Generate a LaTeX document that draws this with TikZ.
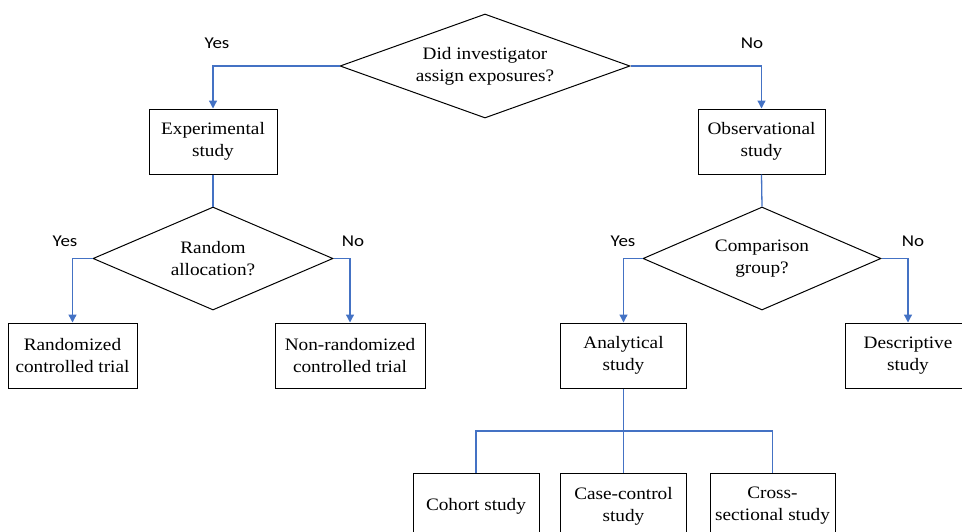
\documentclass[tikz,border=0pt]{standalone}
\usepackage{fontspec}
\setmainfont{Liberation Serif}[FakeStretch=1.1]
\newfontfamily\labfont{Carlito}[FakeStretch=1.15]
\usetikzlibrary{shapes.geometric,arrows.meta}
\definecolor{lineblue}{RGB}{68,114,196}
\begin{document}
\begin{tikzpicture}[x=1pt,y=-1pt,
  box/.style={draw, line width=1pt, minimum width=127pt, minimum height=66pt,
    inner sep=0pt, align=center, font=\fontsize{17.5}{22}\selectfont},
  dec/.style={draw, diamond, line width=1pt, inner sep=0pt, align=center,
    aspect=2.4, minimum height=104pt, font=\fontsize{17.5}{22}\selectfont},
  conn/.style={draw=lineblue, line width=1.3pt},
  arr/.style={conn, -{Triangle[length=8pt,width=8pt]}},
  lab/.style={font=\labfont\fontsize{16.5}{19}\selectfont, inner sep=0pt}]
\useasboundingbox (0,0) rectangle (962,531);
\clip (0,0) rectangle (962,531);

% decisions
\node[dec, minimum width=290pt] (q1) at (485,66) {\raisebox{-4pt}{\begin{tabular}{@{}c@{}}Did investigator\\assign exposures?\end{tabular}}};
\node[dec, minimum width=240pt, minimum height=103pt] (q2) at (213,258.5) {Random\\allocation?};
\node[dec, minimum width=238pt, minimum height=103pt] (q3) at (762,258.5) {Comparison\\group?};

% boxes
\node[box, minimum width=128pt, minimum height=65pt] (exp) at (213,141.5) {Experimental\\study};
\node[box, minimum width=127pt, minimum height=65pt] (obs) at (761.5,141.5) {Observational\\study};
\node[box, minimum width=129pt, minimum height=65pt] (rct) at (72.5,355.5) {Randomized\\controlled trial};
\node[box, minimum width=150pt, minimum height=65pt] (nrct) at (350,355.5) {Non-randomized\\controlled trial};
\node[box, minimum width=126pt, minimum height=65pt] (ana) at (623.5,355.5) {Analytical\\study};
\node[box, minimum width=126pt, minimum height=65pt] (desc) at (908,355.5) {Descriptive\\study};
\node[box, minimum width=126pt] (coh) at (476,506) {Cohort study};
\node[box, minimum width=126pt] (cc) at (623.5,506) {Case-control\\study};
\node[box, minimum width=125pt] (cs) at (772.5,506) {Cross-\\sectional study};

% labels
\node[lab] (l1) at (217,43) {Yes};
\node[lab] (l2) at (752,43) {No};
\node[lab] (l3) at (65,241) {Yes};
\node[lab] (l4) at (353,241) {No};
\node[lab] (l5) at (623,241) {Yes};
\node[lab] (l6) at (913,241) {No};

% connectors
\draw[arr] (q1.west) -| (exp.north);
\draw[arr] (q1.east) -| (obs.north);
\draw[conn] (exp.south) -- (q2.north);
\draw[conn] (obs.south) -- (q3.north);
\draw[arr] (q2.west) -| (rct.north);
\draw[arr] (q2.east) -| (nrct.north);
\draw[arr] (q3.west) -| (ana.north);
\draw[arr] (q3.east) -| (desc.north);
\coordinate (bus) at (623.5,431);
\draw[conn] (ana.south) -- (bus);
\draw[conn] (coh.north) |- (bus) -| (cs.north);
\draw[conn] (bus) -- (cc.north);
\end{tikzpicture}
\end{document}
